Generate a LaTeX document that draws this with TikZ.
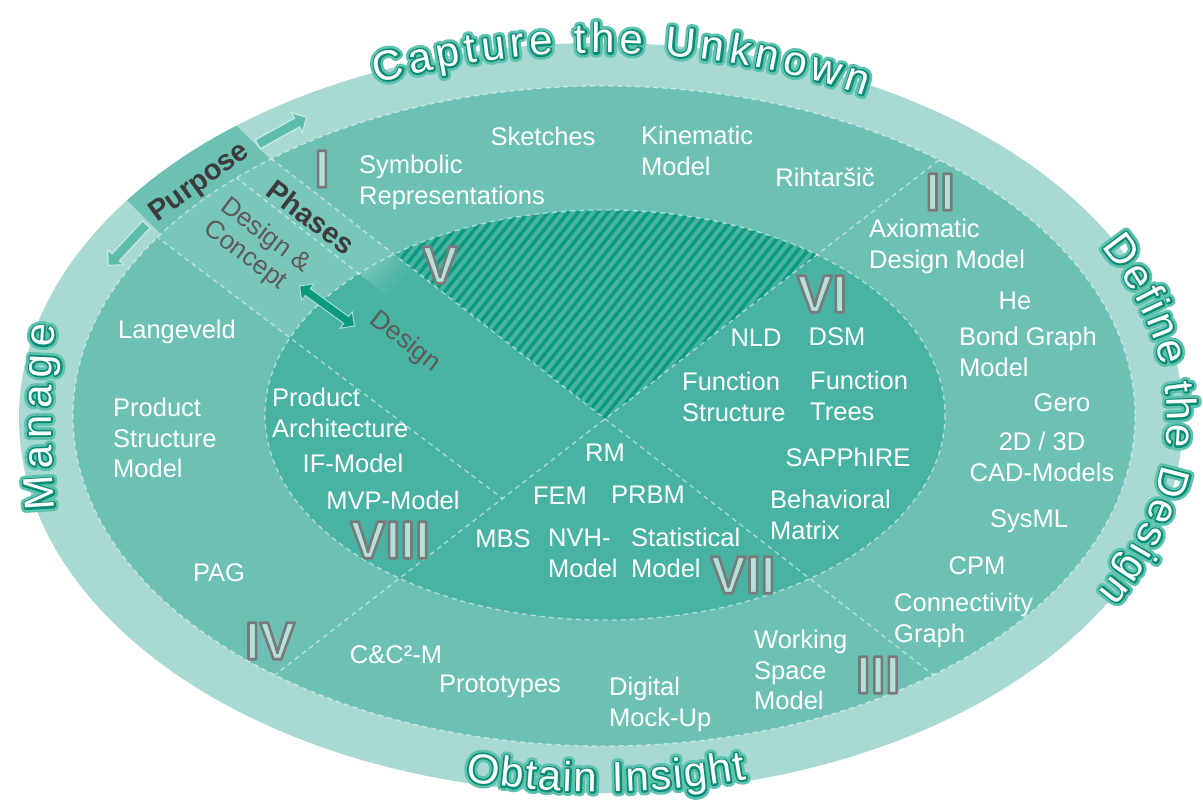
\documentclass[tikz,border=0pt]{standalone}
\usepackage{fontspec}
\setmainfont{Liberation Sans}
\usetikzlibrary{decorations.text,shapes.arrows}
\definecolor{ringC}{HTML}{A8D9D2}
\definecolor{midC}{HTML}{6DC1B4}
\definecolor{bandC}{HTML}{79C7BB}
\definecolor{innC}{HTML}{48B3A2}
\definecolor{hatchC}{HTML}{0A9A7E}
\definecolor{numF}{HTML}{B4E2DA}
\definecolor{glowL}{HTML}{5EC2B0}
\definecolor{glowD}{HTML}{0A8C74}
\definecolor{darkT}{HTML}{3C3C3C}
\definecolor{grayT}{HTML}{5E5A5A}
\definecolor{arrF}{HTML}{5CBDAC}
\definecolor{arrS}{HTML}{CBECE6}
\newcommand\arcfont{\fontsize{42}{42}\selectfont}
\newcommand\numtxt[1]{\special{pdf:literal direct 0.478 0.478 0.478 RG 2 Tr 2.6 w 1 j}#1\special{pdf:literal direct 0 Tr 1 w}}
\newcommand\glowtext[2]{%
  \path[decorate,decoration={text along path,text={|\arcfont\color{glowL}\special{pdf:literal direct 0.369 0.761 0.690 RG 2 Tr 9 w 1 j}|#1},text align=fit to path}] #2;%
  \path[decorate,decoration={text along path,text={|\arcfont\color{glowD}\special{pdf:literal direct 2 Tr 3.6 w 1 j}|#1},text align=fit to path}] #2;%
  \path[decorate,decoration={text along path,text={|\arcfont\color{white}\special{pdf:literal direct 0 Tr 1 w}|#1},text align=fit to path}] #2;}
\begin{document}
\begin{tikzpicture}[x=1pt,y=-1pt,
  lbl/.style={text=white,font=\fontsize{25.5}{30.5}\selectfont,inner sep=0pt},
  mlbl/.style={lbl,align=left,anchor=north west},
  clbl/.style={lbl,align=center,anchor=north},
  num/.style={text=numF,font=\fontsize{53}{53}\selectfont\bfseries,inner sep=0pt},
  dline/.style={draw=white,draw opacity=0.55,line width=1.3pt,dash pattern=on 5pt off 4pt},
  blockarr/.style={single arrow,fill=arrF,draw=arrS,line width=1.2pt,minimum height=56pt,inner sep=4.5pt,single arrow head extend=6pt}]
\useasboundingbox (0,0) rectangle (1203,807);
\fill[white] (0,0) rectangle (1203,807);
% rings
\fill[ringC] (601,418) ellipse [x radius=582, y radius=375];
\begin{scope}
  \clip (601,418) ellipse [x radius=582, y radius=375];
  \fill[midC] (300,189) -- (180,69) -- (40,113) -- (190,263) -- cycle;
\end{scope}
\fill[midC] (604,416) ellipse [x radius=531, y radius=330];
\begin{scope}
  \clip (604,416) ellipse [x radius=531, y radius=330];
  \fill[bandC] (200,103) -- (605,419) -- (503,499) -- (120,209) -- cycle;
\end{scope}
\fill[innC] (605,415) ellipse [x radius=340, y radius=205];
% soft end of the phases strip
\begin{scope}
  \clip (605,415) ellipse [x radius=340, y radius=205];
  \clip (340,212) -- (470,314) -- (470,361) -- (340,259) -- cycle;
  \begin{scope}[shift={(379,266)},rotate=-38]
    \fill[bandC] (-80,-40) rectangle (-10,40);
    \foreach \i in {1,...,7}{
      \pgfmathsetmacro\pc{100-\i*100/8}
      \fill[bandC!\pc!innC] ({-10+(\i-1)*5},-40) rectangle ({-10+\i*5+0.5},40);
    }
  \end{scope}
\end{scope}
% hatch
\begin{scope}
  \clip (605,415) ellipse [x radius=340, y radius=205];
  \clip (605,419) -- (200,103) -- (200,40) -- (1010,40) -- (1010,105) -- cycle;
  \foreach \k in {0,...,52} \draw[hatchC,line width=3.4pt] ({\k*10+10},660) -- ++(400,-500);
\end{scope}
% dashed lines
\draw[dline] (604,416) ellipse [x radius=531, y radius=330];
\draw[dline] (605,415) ellipse [x radius=340, y radius=205];
\begin{scope}
  \clip (604,416) ellipse [x radius=531, y radius=330];
  \draw[dline] (200,103) -- (1000,727);
  \draw[dline] (1010,105) -- (240,702);
  \draw[dline] (200,149) -- (363,277);
  \draw[dline] (120,209) -- (503,499);
\end{scope}
% labels
\node[lbl] (sketch) at (543,136) {Sketches};
\node[mlbl] (kin) at (641,126) {Kinematic\\Model};
\node[mlbl] (sym) at (359,155) {Symbolic\\Representations};
\node[lbl] (riht) at (825,177) {Rihtaršič};
\node[mlbl] (axio) at (869,219) {Axiomatic\\Design Model};
\node[lbl] (he) at (1015,301) {He};
\node[mlbl] (bond) at (959,327) {Bond Graph\\Model};
\node[lbl] (gero) at (1062,403) {Gero};
\node[clbl] (cad) at (1042,432) {2D / 3D\\CAD-Models};
\node[lbl] (sysml) at (1029,521) {SysML};
\node[lbl] (cpm) at (977,566) {CPM};
\node[mlbl] (conn) at (894,593) {Connectivity\\Graph};
\node[mlbl] (work) at (754,630) {Working\\Space\\Model};
\node[mlbl] (dmu) at (609,677) {Digital\\Mock-Up};
\node[lbl] (proto) at (500,686) {Prototypes};
\node[lbl] (cc) at (396,655) {C\&C²-M};
\node[lbl] (pag) at (219,573) {PAG};
\node[lbl] (lang) at (177,332) {Langeveld};
\node[mlbl] (psm) at (113,398) {Product\\Structure\\Model};
\node[mlbl] (parch) at (272,388) {Product\\Architecture};
\node[lbl] (ifm) at (353,463) {IF-Model};
\node[lbl] (mvp) at (393,500) {MVP-Model};
\node[lbl] (rm) at (605,453) {RM};
\node[lbl] (fem) at (560,496) {FEM};
\node[lbl] (prbm) at (648,495) {PRBM};
\node[lbl] (mbs) at (503,539) {MBS};
\node[mlbl] (nvh) at (548,529) {NVH-\\Model};
\node[mlbl] (stat) at (631,528) {Statistical\\Model};
\node[mlbl] (beh) at (770,490) {Behavioral\\Matrix};
\node[lbl] (sapp) at (848,457) {SAPPhIRE};
\node[mlbl] (fs) at (682,372) {Function\\Structure};
\node[mlbl] (ft) at (810,371) {Function\\Trees};
\node[lbl] (nld) at (756,338) {NLD};
\node[lbl] (dsm) at (837,337) {DSM};
% numerals
\node[num] (nI) at (322,169) {\numtxt{I}};
\node[num] (nII) at (940,192) {\numtxt{II}};
\node[num] (nIII) at (878,675) {\numtxt{III}};
\node[num] (nIV) at (270,641) {\numtxt{IV}};
\node[num] (nV) at (440,265) {\numtxt{V}};
\node[num] (nVI) at (822,294) {\numtxt{VI}};
\node[num] (nVII) at (743,575) {\numtxt{VII}};
\node[num] (nVIII) at (390,540) {\numtxt{VIII}};
% purpose / phases
\node[blockarr,rotate=29] (arrU) at (280,132) {};
\node[blockarr,rotate=227] (arrD) at (129,243) {};
\node[font=\fontsize{29}{29}\selectfont\bfseries,text=darkT,rotate=36,inner sep=0pt] (purpose) at (200,183) {Purpose};
\node[font=\fontsize{29}{29}\selectfont\bfseries,text=darkT,rotate=-37,inner sep=0pt] (phases) at (311,217) {Phases};
\node[font=\fontsize{26}{28}\selectfont,text=grayT,rotate=-37,align=left,inner sep=0pt] (dc) at (257,247) {Design \&\\Concept};
\node[font=\fontsize{26}{26}\selectfont,text=grayT,rotate=-38,inner sep=0pt] (des) at (405,342) {Design};
\node[double arrow,fill=hatchC,draw=numF,line width=0.9pt,minimum height=68pt,inner sep=3.8pt,double arrow head extend=6pt,rotate=-36] (arrDC) at (327,306) {};
% arc titles
\begin{scope}[shift={(601,418)}]
\glowtext{Capture the Unknown}{(-113.5:562 and 365) arc[start angle=-113.5,end angle=-62,x radius=562,y radius=365]}
\glowtext{Define the Design}{(-28:566 and 365) arc[start angle=-28,end angle=28.5,x radius=566,y radius=365]}
\glowtext{Manage}{(-186.6:550 and 800) arc[start angle=-186.6,end angle=-173.3,x radius=550,y radius=800]}
\glowtext{Obtain Insight}{(-256:562 and 374) arc[start angle=-256,end angle=-285,x radius=562,y radius=374]}
\end{scope}
\end{tikzpicture}
\end{document}
